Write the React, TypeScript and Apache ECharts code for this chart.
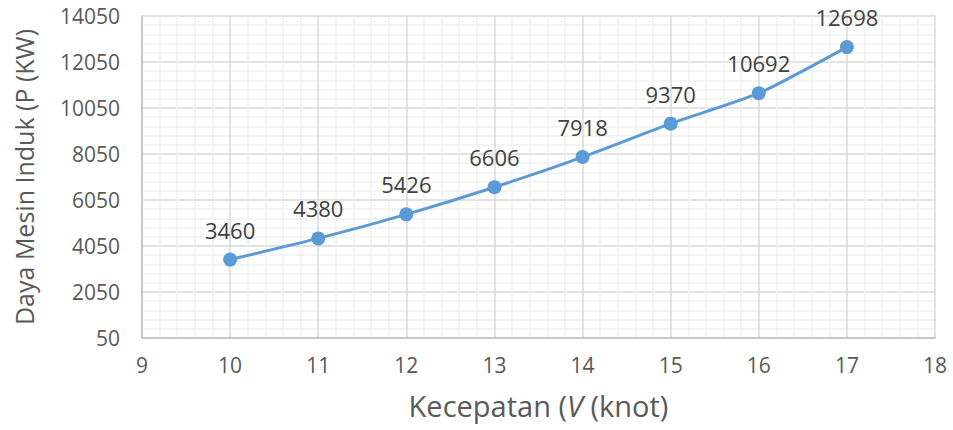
import React, { useEffect, useRef } from "react";
import * as echarts from "echarts";

const speeds = [10, 11, 12, 13, 14, 15, 16, 17];
const powers = [3460, 4380, 5426, 6606, 7918, 9370, 10692, 12698];
const xTicks = [9, 18, 1];
const yTicks = [50, 14050, 2000];

const FONT = "'Open Sans', sans-serif";

export default function App() {
  const ref = useRef<HTMLDivElement>(null);
  useEffect(() => {
    if (!ref.current) return;
    const chart = echarts.init(ref.current, null, { renderer: "svg" });
    chart.setOption({
      animation: false,
      backgroundColor: "#ffffff",
      grid: { left: 142, right: 18, top: 16, bottom: 92, containLabel: false, outerBoundsMode: "none" },
      xAxis: {
        type: "value",
        min: xTicks[0],
        max: xTicks[1],
        interval: xTicks[2],
        name: "{n|Kecepatan (}{i|V}{n| (knot)}",
        nameLocation: "middle",
        nameGap: 51,
        nameTextStyle: {
          rich: {
            n: { fontFamily: FONT, fontSize: 29, lineHeight: 32, color: "#595959" },
            i: { fontFamily: FONT, fontSize: 29, lineHeight: 32, color: "#595959", fontStyle: "italic" },
          },
        },
        axisLine: { show: true, lineStyle: { color: "#bfbfbf", width: 1.5 } },
        axisTick: { show: false },
        axisLabel: { fontFamily: FONT, fontSize: 21, color: "#595959", margin: 16 },
        splitLine: { show: true, lineStyle: { color: "#d9d9d9", width: 1.5 } },
        minorTick: { show: false, splitNumber: 5 },
        minorSplitLine: { show: true, lineStyle: { color: "#f0f0f0", width: 1.5 } },
      },
      yAxis: {
        type: "value",
        min: yTicks[0],
        max: yTicks[1],
        interval: yTicks[2],
        name: "Daya Mesin Induk (P (KW)",
        nameLocation: "middle",
        nameGap: 106,
        nameRotate: 90,
        nameTextStyle: { fontFamily: FONT, fontSize: 25, color: "#595959" },
        axisLine: { show: true, lineStyle: { color: "#bfbfbf", width: 1.5 } },
        axisTick: { show: false },
        axisLabel: {
          fontFamily: FONT,
          fontSize: 21,
          color: "#595959",
          margin: 22,
          formatter: (v: number) => String(v),
        },
        splitLine: { show: true, lineStyle: { color: "#d9d9d9", width: 1.5 } },
        minorTick: { show: false, splitNumber: 5 },
        minorSplitLine: { show: true, lineStyle: { color: "#f0f0f0", width: 1.5 } },
      },
      series: [
        {
          type: "line",
          data: speeds.map((s, i) => [s, powers[i]]),
          smooth: 0.2,
          symbol: "circle",
          symbolSize: 14,
          lineStyle: { color: "#5b9bd5", width: 3 },
          itemStyle: { color: "#5b9bd5" },
          label: {
            show: true,
            position: "top",
            distance: 12,
            fontFamily: FONT,
            fontSize: 22,
            color: "#404040",
            formatter: (p: any) => String(p.value[1]),
          },
        },
      ],
    });
    return () => chart.dispose();
  }, []);
  return <div ref={ref} style={{ width: 953, height: 430, position: "absolute", left: 0, top: 0 }} />;
}
